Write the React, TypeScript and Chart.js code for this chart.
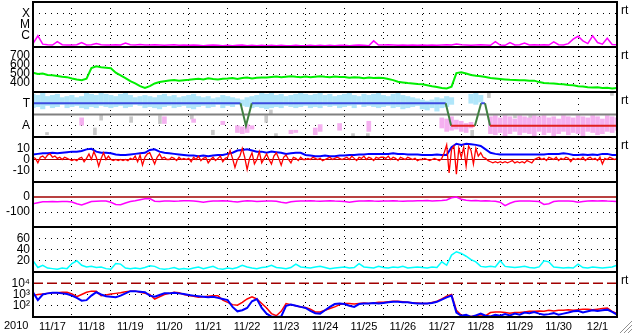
import React, { useEffect, useRef } from 'react';
import { Chart, registerables } from 'chart.js';

Chart.register(...registerables);

const N = null;
const FONT = "'Liberation Sans', Arial, sans-serif";

const dayLabels = ['11/17', '11/18', '11/19', '11/20', '11/21', '11/22', '11/23', '11/24', '11/25', '11/26', '11/27', '11/28', '11/29', '11/30', '12/1'];
const yearLabel = '2010';
const sideLabel = 'rt';

const STEP = 0.125; // 3 h, in days
const STEP_FINE = 0.0625; // 1.5 h

// GOES X-ray flux, units of 1e-8 W/m2
const xrayFlux = [
  20, 100, 18, 16, 15, 30, 16, 15,
  15, 16, 25, 15, 16, 20, 16, 15,
  15, 16, 15, 22, 16, 15, 17, 15,
  15, 16, 15, 14, 15, 16, 14, 15,
  14, 15, 14, 13, 14, 15, 14, 13,
  14, 13, 14, 15, 13, 14, 13, 14,
  13, 14, 13, 14, 13, 13, 14, 13,
  13, 14, 13, 14, 13, 14, 13, 14,
  14, 13, 14, 15, 14, 13, 35, 15,
  15, 16, 15, 14, 15, 14, 15, 14,
  15, 14, 15, 14, 15, 16, 15, 18,
  16, 15, 14, 15, 16, 15, 14, 30,
  15, 14, 25, 15, 16, 22, 15, 16,
  15, 16, 15, 28, 16, 15, 20, 50,
  90, 35, 20, 100, 25, 18, 60, 17, 16,
];

// solar wind speed km/s
const windSpeed = [
  515, 500, 505, 490, 485, 478, 470, 465,
  450, 440, 432, 448, 565, 585, 575, 570,
  565, 515, 485, 455, 420, 395, 365, 345,
  365, 395, 410, 420, 428, 432, 424, 430,
  435, 442, 446, 438, 452, 445, 440, 447,
  450, 456, 444, 455, 462, 450, 457, 461,
  460, 466, 472, 464, 470, 476, 469, 465,
  472, 465, 470, 476, 469, 464, 471, 466,
  466, 459, 465, 461, 454, 460, 456, 459,
  455, 444, 432, 414, 406, 399, 394, 388,
  385, 375, 364, 356, 345, 340, 360, 510,
  520, 505, 490, 480, 474, 466, 455, 450,
  445, 440, 436, 434, 430, 431, 424, 426,
  410, 401, 396, 394, 389, 386, 379, 376,
  365, 361, 354, 350, 352, 345, 346, 340, 345,
];

// IMF toward / away scatter (T = 1, A = -1)
const towardHi = [
  1.8, 1.7, 1.9, 1.6, 1.7, 1.8, 1.5, 1.6,
  1.7, 1.5, 1.6, 1.9, 1.8, 1.7, 1.9, 1.8,
  1.7, 1.6, 1.8, 1.9, 1.7, 1.5, 1.6, 1.7,
  1.6, 1.5, 1.7, 1.8, 1.6, 1.7, 1.5, 1.6,
  1.7, 1.8, 1.6, 1.5, 1.6, 1.4, 1.5, 1.7,
  1.6, 1.5, 1.4, 1.3, 1.5, 1.6, 1.7, 1.9,
  1.8, 1.9, 1.7, 1.8, 1.6, 1.7, 1.8, 1.9,
  1.8, 1.7, 1.8, 1.9, 1.7, 1.8, 1.6, 1.7,
  1.8, 1.9, 1.7, 1.6, 1.8, 1.7, 1.8, 1.9,
  1.7, 1.6, 1.8, 1.9, 1.7, 1.6, 1.5, 1.4,
  1.3, 1.2, 1.3, 1.5, 1.4, 1.6, 1.5, N,
  N, N, 1.8, 1.9, 1.7, N, N, N,
  N, N, N, N, N, N, N, N,
  N, N, N, N, N, N, N, N,
  N, N, N, N, N, N, N, N, N,
];
const towardLo = [
  0.6, 0.7, 0.5, 0.8, 0.6, 0.7, 0.9, 0.6,
  0.7, 0.8, 0.6, 0.5, 0.7, 0.6, 0.8, 0.7,
  0.6, 0.7, 0.8, 0.6, 0.7, 0.9, 0.8, 0.6,
  0.7, 0.6, 0.5, 0.7, 0.8, 0.6, 0.7, 0.8,
  0.6, 0.5, 0.7, 0.8, 0.6, 0.7, 0.9, 0.6,
  0.8, 0.7, 0.9, 0.8, 0.7, 0.6, 0.7, 0.6,
  0.5, 0.6, 0.7, 0.6, 0.8, 0.7, 0.6, 0.7,
  0.8, 0.6, 0.7, 0.6, 0.8, 0.7, 0.8, 0.6,
  0.7, 0.8, 0.6, 0.9, 0.7, 0.8, 0.7, 0.6,
  0.7, 0.8, 0.6, 0.7, 0.5, 0.6, 0.7, 0.8,
  0.5, 0.4, 0.6, 0.3, 0.6, 0.7, 0.9, N,
  N, N, 1.0, 0.9, 1.1, N, N, N,
  N, N, N, N, N, N, N, N,
  N, N, N, N, N, N, N, N,
  N, N, N, N, N, N, N, N, N,
];
const awayHi = [
  N, N, N, N, N, N, N, N,
  N, N, -0.3, N, N, N, N, N,
  N, N, N, N, N, N, N, N,
  N, N, N, -0.2, N, N, N, N,
  N, -0.4, N, N, N, N, N, -0.6,
  N, N, -1.0, -1.1, -0.9, -1.0, N, N,
  N, N, N, N, N, -1.4, -1.4, N,
  N, N, -1.2, -0.9, N, N, N, -0.8,
  N, N, N, N, N, -0.6, N, N,
  N, N, N, N, N, N, N, N,
  N, N, N, N, -0.3, -0.4, -0.2, -0.5,
  -0.6, -0.8, -0.7, N, N, N, -0.2, -0.1,
  -0.3, -0.1, -0.2, -0.4, -0.1, -0.2, -0.3, -0.1,
  -0.2, -0.1, -0.3, -0.2, -0.4, -0.1, -0.2, -0.3,
  -0.1, -0.2, -0.3, -0.1, -0.2, -0.4, -0.1, -0.2, -0.3,
];
const awayLo = [
  N, N, N, N, N, N, N, N,
  N, N, -0.95, N, N, N, N, N,
  N, N, N, N, N, N, N, N,
  N, N, N, -0.8, N, N, N, N,
  N, -0.7, N, N, N, N, N, -0.9,
  N, N, -1.6, -1.7, -1.6, -1.3, N, N,
  N, N, N, N, N, -1.7, -1.6, N,
  N, N, -1.8, -1.5, N, N, N, -1.4,
  N, N, N, N, N, -1.5, N, N,
  N, N, N, N, N, N, N, N,
  N, N, N, N, -1.2, -1.5, -1.4, -1.3,
  -1.5, -1.6, -1.2, N, N, N, -1.7, -1.8,
  -1.6, -1.9, -1.7, -1.5, -1.8, -1.6, -1.7, -1.9,
  -1.5, -1.8, -1.6, -1.9, -1.7, -1.5, -1.8, -1.6,
  -1.7, -1.9, -1.5, -1.6, -1.8, -1.7, -1.5, -1.6, -1.4,
];
const grayTimes = [0.36, 1.59, 1.75, 2.52, 3.26, 4.08, 4.62, 5.99, 6.11, 6.24, 8.22, 8.6, 11.28, 11.71, 12.38, 12.77, 14.87];
const grayLo = [-1.8, -1.8, -0.5, -0.7, -0.8, -0.4, -1.8, -0.7, 0.0, -2.0, -2.0, -2.0, -1.9, 1.5, -0.3, -0.3, 1.7];
const grayHi = [-1.6, -1.2, -0.05, -0.2, -0.1, 0.0, -1.4, -0.1, 0.4, -1.7, -1.7, -1.7, -1.4, 1.9, -0.1, -0.1, 1.9];

const sectorTimes = [0, 5.33, 5.47, 5.62, 10.6, 10.74, 11.35, 11.51, 11.61, 11.74, 15];
const sectorValues = [1, 1, -1, 1, 1, -1, -1, 1, 1, -1, -1];

// IMF Bt (nT), 3 h
const bt = [
  4.5, 5, 5.5, 5.5, 6, 5.5, 6, 6.5,
  7, 7, 7.5, 9, 9.5, 7, 6, 6,
  5.5, 4.5, 4, 4, 4.5, 5, 5.5, 6,
  8.5, 9, 7, 6, 5.5, 5, 4.5, 4,
  3.5, 3.5, 3, 3.5, 3, 3.5, 4, 4,
  5, 6, 8, 8.5, 9, 8, 7, 7,
  6, 7, 6.5, 6, 5, 5.5, 6, 6,
  4, 3.5, 3, 3, 3.5, 3, 3, 3.5,
  3.5, 4, 4, 4.5, 4.5, 5, 5, 5,
  5, 5, 5.5, 5, 5, 4.5, 4.5, 4.5,
  4, 4, 4, 4.5, 4, 4, 11, 14,
  13, 14, 13.5, 13, 12, 9, 6, 5,
  4.5, 4.5, 4.5, 4.5, 4.5, 4.5, 4.5, 4.5,
  4.5, 4.5, 5, 5, 5, 5.5, 5, 4,
  4, 4.5, 4, 4.5, 4, 5, 5, 4, 4,
];

// IMF Bz (nT), 1.5 h
const bz = [
  2, 1, -3, 2, 3, 1, 4, 5, 2, 3, 1, 2, 0, 2, 1, 0,
  -1, 0, -1, 1, 2, -2, 1, 5, 0, 7, 2, -6, 1, 6, 0, 3,
  0, -1, 0, -1, 0, -1, 0, -1, 1, 0, 3, -2, 4, -5, 2, 5,
  6, 1, -4, 2, 5, 1, 2, 0, 0, 2, 1, -1, 2, 0, 1, 0,
  1, -2, 2, 0, 3, -1, 1, 2, -3, 0, 2, -1, 1, 3, -2, 1,
  2, 8, 1, -7, 0, 3, 10, 2, -9, 1, 6, -4, 0, 7, -3, 1,
  5, 0, -4, 3, 6, 1, -5, 2, 4, 0, -3, 2, 1, -1, 2, 0,
  0, 1, 0, 2, 1, 0, 1, -1, 0, 1, 2, 0, 1, 2, 1, 0,
  1, 2, 0, 3, 1, -1, 2, 1, 3, 0, 2, 1, -1, 2, 1, 2,
  2, 1, 3, 0, 2, 1, -1, 2, 1, 0, 2, 1, 0, 1, -1, 0,
  0, 1, 0, -1, 0, 1, 0, -1, 1, 6, 13, -12, 9, 12, -13, 10,
  2, 11, -6, 12, 8, -4, 10, 3, 6, 2, 1, -1, -2, -3, -2, -3,
  -2, -3, -2, -3, -2, -1, -3, -2, -3, -2, -3, -1, -2, -3, 0, 1,
  2, 0, 1, -1, 2, 1, 0, 2, -1, 1, 0, 2, 1, -2, 1, 0,
  1, 0, 2, -1, 1, 2, 0, 1, -1, 2, -4, 1, 0, 2, 1, 0, 1,
];

// Dst (nT), 3 h
const dst = [
  -45, -38, -32, -31, -30, -31, -30, -30,
  -33, -45, -53, -42, -30, -28, -27, -27,
  -35, -50, -52, -40, -30, -25, -18, -12,
  -10, -28, -30, -27, -26, -28, -27, -25,
  -25, -27, -30, -35, -30, -27, -26, -25,
  -26, -30, -33, -28, -25, -27, -30, -28,
  -27, -26, -28, -35, -40, -32, -28, -27,
  -26, -25, -27, -28, -26, -25, -27, -28,
  -30, -35, -30, -27, -26, -25, -27, -28,
  -27, -26, -25, -27, -28, -27, -26, -25,
  -25, -24, -26, -25, -24, -20, -5, 0,
  -15, -22, -25, -24, -26, -25, -27, -28,
  -35, -58, -42, -30, -27, -26, -27, -28,
  -30, -50, -45, -30, -27, -26, -27, -28,
  -35, -30, -27, -25, -26, -25, -27, -28, -30,
];

// plasma density, 3 h
const density = [
  20, 8, 12, 7, 6, 5, 7, 6,
  15, 20, 12, 9, 10, 8, 9, 6,
  5, 15, 14, 7, 6, 7, 6, 8,
  11, 10, 6, 5, 6, 8, 5, 6,
  5, 7, 9, 6, 8, 10, 6, 5,
  7, 6, 8, 12, 9, 7, 6, 8,
  9, 12, 8, 7, 6, 8, 14, 9,
  8, 7, 9, 10, 8, 6, 7, 8,
  9, 7, 8, 15, 9, 8, 7, 10,
  8, 7, 9, 8, 10, 7, 8, 9,
  8, 7, 9, 8, 18, 12, 30, 36,
  33, 28, 22, 18, 10, 9, 10, 9,
  20, 10, 9, 8, 9, 10, 8, 7,
  9, 20, 18, 9, 8, 7, 8, 7,
  14, 8, 7, 9, 8, 7, 8, 9, 12,
];

// electron flux, 3 h
const electronRed = [
  794, 1000, 1122, 1259, 1413, 1413, 1585, 1585,
  1122, 631, 1000, 1585, 1995, 1995, 794, 891,
  1122, 1259, 1413, 1778, 1995, 1995, 1585, 1259,
  1000, 398, 631, 1000, 1259, 1585, 1413, 1000,
  794, 708, 562, 631, 708, 794, 794, 316,
  200, 126, 112, 200, 398, 631, 398, 158,
  63, 20, 13, 32, 158, 126, 100, 79,
  71, 50, 28, 28, 40, 56, 79, 126,
  158, 158, 141, 158, 178, 158, 178, 200,
  200, 224, 251, 251, 224, 200, 178, 178,
  158, 158, 200, 251, 398, 708, 1000, 40,
  14, 13, 11, 13, 16, 13, 25, 28,
  28, 25, 22, 25, 25, 28, 32, 32,
  35, 32, 40, 35, 40, 40, 45, 40,
  45, 50, 50, 45, 50, 56, 63, 32, 20,
];
const electronBlue = [
  1585, 316, 1000, 1259, 1413, 1413, 1259, 1122,
  794, 501, 282, 316, 794, 1585, 1000, 708,
  631, 562, 794, 1259, 1995, 1995, 1778, 1585,
  794, 631, 891, 1259, 1259, 1413, 1259, 1122,
  891, 794, 708, 631, 562, 631, 501, 398,
  316, 79, 32, 40, 63, 251, 398, 63,
  20, 11, 10, 11, 100, 126, 100, 79,
  63, 35, 22, 20, 40, 79, 141, 158,
  141, 100, 79, 141, 158, 158, 178, 158,
  178, 200, 224, 224, 200, 200, 178, 158,
  158, 158, 178, 224, 355, 562, 794, 25,
  13, 16, 10, 14, 20, 13, 11, 16,
  13, 18, 14, 20, 16, 25, 22, 28,
  20, 16, 18, 22, 16, 20, 25, 32,
  35, 25, 32, 40, 35, 40, 45, 28, 16,
];

const xrayTicks = [1e-6, 1e-5, 1e-4];
const xrayTickLabels = ['C', 'M', 'X'];
const speedTicks = [400, 500, 600, 700];
const sectorTicks = [-1, 1];
const sectorTickLabels = ['A', 'T'];
const bTicks = [-10, 0, 10];
const dstTicks = [-100, 0];
const densityTicks = [20, 40, 60];
const electronTicks = [1e2, 1e3, 1e4];
const electronTickLabels = ['10\u00b2', '10\u00b3', '10\u2074'];
const electronThreshold = 1e4;

const tickFont = { family: FONT, size: 12 };

function panelScale(weight: number, type: string, min: number, max: number, tickVals: number[], tickLabels: string[], hiddenIdx: number[] = []) {
  return {
    type, min, max,
    position: 'left', stack: 'panels', stackWeight: 1, weight, offset: false,
    border: { display: false, dash: [1, 5] },
    grid: {
      drawTicks: false, lineWidth: 1,
      color: (c: any) => (hiddenIdx.includes(c.index) ? 'rgba(0,0,0,0)' : '#000'),
    },
    afterBuildTicks: (s: any) => { s.ticks = tickVals.map((v) => ({ value: v })); },
    afterFit: (s: any) => { s.width = 33; s.paddingTop = 0; s.paddingBottom = 0; },
    ticks: { padding: 3, color: '#000', font: tickFont, autoSkip: false, callback: (_v: any, i: number) => tickLabels[i] },
  };
}

export default function App() {
  const ref = useRef<HTMLCanvasElement>(null);
  useEffect(() => {
    const canvas = ref.current!;
    const line = (vals: (number | null)[], step: number, k = 1) => vals.map((v, i) => ({ x: i * step, y: v == null ? null : v * k }));
    const bars = (times: number[], lo: (number | null)[], hi: (number | null)[]) =>
      lo.map((l, i) => (l == null || hi[i] == null ? null : { x: times[i], y: [l, hi[i]] })).filter(Boolean);
    const grid3h = towardLo.map((_, i) => i * STEP);
    const flat = (v: number) => [{ x: 0, y: v }, { x: 15, y: v }];
    const lineDs = (data: any, yAxisID: string, color: string, width: number, order: number, extra: any = {}) => ({
      type: 'line', data, yAxisID, xAxisID: 'x', borderColor: color, borderWidth: width, pointRadius: 0, fill: false, tension: 0, order, ...extra,
    });
    const barDs = (data: any, color: string, order: number, thick: number) => ({
      type: 'bar', data, yAxisID: 'yTA', xAxisID: 'x', backgroundColor: color, borderWidth: 0, barThickness: thick, grouped: false, order,
    });

    const framePlugin = {
      id: 'frame',
      afterDatasetsDraw(chart: any) {
        const { ctx, chartArea: a } = chart;
        ctx.save();
        ctx.strokeStyle = '#000';
        ctx.lineWidth = 2;
        ctx.strokeRect(a.left, a.top, a.right - a.left, a.bottom - a.top);
        ['ySpd', 'yTA', 'yB', 'yDst', 'yDen', 'yE'].forEach((id) => {
          const y = Math.round(chart.scales[id].top);
          ctx.beginPath();
          ctx.moveTo(a.left, y);
          ctx.lineTo(a.right, y);
          ctx.stroke();
        });
        ctx.restore();
      },
      afterDraw(chart: any) {
        const { ctx, chartArea: a } = chart;
        ctx.save();
        ctx.fillStyle = '#000';
        ctx.font = `12px ${FONT}`;
        ctx.textBaseline = 'middle';
        ctx.textAlign = 'left';
        ['yX', 'ySpd', 'yTA', 'yB', 'yE'].forEach((id) => {
          ctx.fillText(sideLabel, a.right + 4, chart.scales[id].top + 9);
        });
        ctx.font = `11px ${FONT}`;
        ctx.fillText(yearLabel, 4, 326);
        ctx.strokeStyle = '#909090';
        ctx.lineWidth = 1;
        [4, 8, 12].forEach((k) => {
          ctx.beginPath();
          ctx.moveTo(632 - k, 333);
          ctx.lineTo(632, 333 - k);
          ctx.stroke();
        });
        ctx.restore();
      },
    };

    const chart = new Chart(canvas, {
      type: 'line',
      data: {
        datasets: [
          lineDs(line(xrayFlux, STEP, 1e-8), 'yX', '#ff00ff', 1.5, 1),
          lineDs(line(windSpeed, STEP), 'ySpd', '#00ee00', 2, 1),
          lineDs(sectorTimes.map((t, i) => ({ x: t, y: sectorValues[i] })), 'yTA', '#3c4be0', 2, 0, {
            segment: {
              borderColor: (c: any) => {
                const p = c.p0.parsed.y, q = c.p1.parsed.y;
                if (p === 1 && q === 1) return '#3c4be0';
                if (p === -1 && q === -1) return '#e02020';
                return '#3f8040';
              },
            },
          }),
          lineDs(flat(0), 'yTA', '#808080', 2, 1),
          barDs(bars(grayTimes, grayLo, grayHi), '#c8c8c8', 4, 3),
          barDs(bars(grid3h, awayLo, awayHi), '#f5b0f0', 3, 4),
          barDs(bars(grid3h, towardLo, towardHi), '#b0e6fa', 2, 4.5),
          lineDs(line(bz, STEP_FINE), 'yB', '#ff0000', 1.3, 1),
          lineDs(line(bt, STEP), 'yB', '#0000ff', 2, 2),
          lineDs(flat(0), 'yB', '#a00000', 1, 3),
          lineDs(line(dst, STEP), 'yDst', '#ff00ff', 1.5, 1),
          lineDs(flat(0), 'yDst', '#a00000', 1.5, 2),
          lineDs(line(density, STEP), 'yDen', '#00ffff', 1.5, 1),
          lineDs(line(electronBlue, STEP), 'yE', '#0000ff', 2, 1),
          lineDs(line(electronRed, STEP), 'yE', '#ff0000', 1.5, 2),
          lineDs(flat(electronThreshold), 'yE', '#a00000', 1.5, 3, { borderDash: [10, 4] }),
        ] as any,
      },
      options: {
        animation: false,
        responsive: false,
        events: [],
        layout: { padding: { left: 0, right: 16, top: 2, bottom: 0 } },
        plugins: { legend: { display: false }, tooltip: { enabled: false }, title: { display: false } },
        scales: {
          x: {
            type: 'linear', min: 0, max: 15, offset: false, position: 'bottom',
            afterBuildTicks: (s: any) => { s.ticks = dayLabels.map((_, i) => ({ value: i + 0.5 })); },
            afterFit: (s: any) => { s.height = 17; s.paddingLeft = 0; s.paddingRight = 0; },
            ticks: { autoSkip: false, maxRotation: 0, padding: 3, color: '#000', font: { family: FONT, size: 11 }, callback: (_v: any, i: number) => dayLabels[i] },
            grid: { offset: true, drawTicks: false, color: '#000', lineWidth: 1 },
            border: { display: false, dash: [1, 5] },
          },
          yX: panelScale(7, 'logarithmic', 1e-7, 1e-3, xrayTicks, xrayTickLabels),
          ySpd: panelScale(6, 'linear', 300, 800, speedTicks, speedTicks.map(String)),
          yTA: panelScale(5, 'linear', -2, 2, sectorTicks, sectorTickLabels, [1]),
          yB: panelScale(4, 'linear', -20, 20, bTicks, bTicks.map(String), [1]),
          yDst: panelScale(3, 'linear', -200, 100, dstTicks, dstTicks.map(String), [1]),
          yDen: panelScale(2, 'linear', 0, 80, densityTicks, densityTicks.map(String)),
          yE: panelScale(1, 'logarithmic', 10, 1e5, electronTicks, electronTickLabels, [2]),
        } as any,
      },
      plugins: [framePlugin],
    } as any);
    return () => chart.destroy();
  }, []);
  return (
    <div style={{ position: 'absolute', left: 0, top: 0, width: 633, height: 334, background: '#fff' }}>
      <canvas ref={ref} width={633} height={334} style={{ display: 'block' }} />
    </div>
  );
}
